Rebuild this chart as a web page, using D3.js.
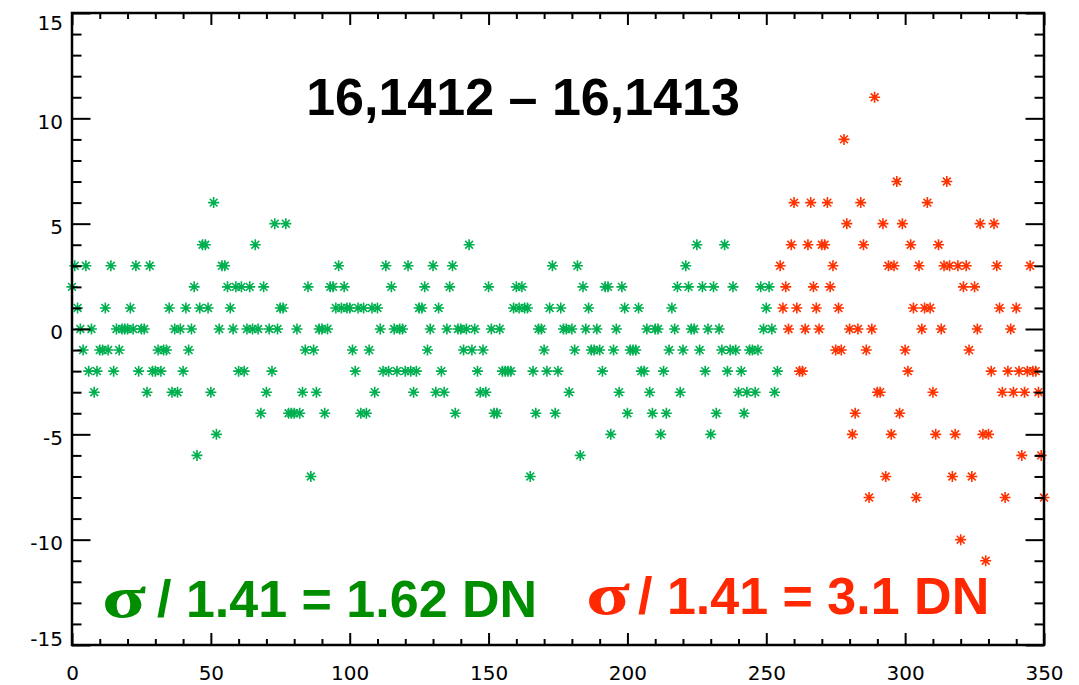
<!DOCTYPE html>
<html>
<head>
<meta charset="utf-8">
<script src="https://cdn.jsdelivr.net/npm/d3@7"></script>
<style>
	body { margin: 0; background: #fff; }
</style>
</head>
<body>
<div class="chart"></div>
<script>
// Paramètres du graphique
const width = 1079;
const height = 685;
const margin = { top: 13, right: 35, bottom: 40, left: 72 };

// Différences (une valeur par pixel, x = indice)
const greenY = [
	2, 3, 1, 0, -1, 3, -2, 0, -3, -2,
	-1, -1, 1, -1, 3, -2, 0, -1, 0, 0,
	0, 1, 0, 3, -2, 0, 0, -3, 3, -2,
	-2, -1, -2, -1, -1, 1, -3, 0, -3, 0,
	-2, 1, -1, 0, 2, -6, 1, 4, 4, 1,
	-3, 6, -5, 0, 3, 3, 2, 1, 0, 2,
	-2, 2, -2, 0, 2, 0, 4, 0, -4, 2,
	-3, 0, -2, 5, 0, 1, 1, 5, -4, -4,
	-4, 0, -4, -3, -1, 2, -7, -1, -3, 0,
	0, -4, 0, 2, 2, 1, 3, 1, 2,
	1, 1, -1, -2, 1, -4, 1, -4, -1, 1,
	-3, 1, 0, -2, 3, -2, 2, 0, -2, 0,
	0, -2, 3, -2, -3, -2, 1, 1, 2, -1,
	0, 3, -3, 1, -2, -3, 0, 2, 3, -4,
	0, 0, -1, 0, 4, -1, 0, -2, -3,
	-1, -3, 2, 0, -4, -4, 0, -2, -2, -2,
	-2, 1, 2, 1, 2, 1, 1, -7, -2, -4,
	0, 0, -1, -2, 1, 3, -4, -2, 1, 0,
	0, -3, 0, -1, 3, -6, 2, 0, 1, -1,
	-1, 0, -1, -2, 2, 2, -5, -1, 0, -3,
	2, 1, -4, -1, -1, -1, 1, -2, -2, 0,
	-3, -4, 0, 0, -5, -2, -4, -1, 1, 0,
	2, -3, -1, 3, 2, 0, 0, 4, -1, 2,
	-2, 0, -5, 2, -4, 0, -1, 4, -2, -1,
	2, -1, -3, -2, -4, -3, -1, -1, -3, -1,
	2, 0, 1, 2, 0, -3, -2
];
const redY = [
	3, 1, 2, 0, 4, 6, 1, -2, -2, 0,
	4, 6, 2, 1, 0, 4, 4, 6, 2, 3,
	-1, 1, -1, 9, 5, 0, -5, -4, 0, 6,
	4, -1, -8, 0, 11, -3, -3, 5, -7, 3,
	-5, 3, 7, -4, 5, -1, -2, 4, 1, -8,
	3, 0, 1, 6, 1, -3, -5, 4, 0, 3,
	7, 3, -7, -5, 3, -10, 2, 3, -1, -7,
	2, 0, 5, -5, -11, -5, -2, 5, 3, 1,
	-3, -8, -2, 0, -3, 1, -2, -6, -3, -2,
	3, -2, -2, -3, -6, -8
];
const redStart = greenY.length;

// Axes et textes
const xDomain = [0, 350];
const yDomain = [-15, 15];
const xMajorTicks = [0, 50, 100, 150, 200, 250, 300, 350];
const yMajorTicks = [-15, -10, -5, 0, 5, 10, 15];
const title = '16,1412 \u2013 16,1413';
const greenNote = '/ 1.41 = 1.62 DN';
const redNote = '/ 1.41 = 3.1 DN';

// Symbole astérisque (psym=2)
const star = 'M-5.5,0H5.5M0,-5.5V5.5M-3.9,-3.9L3.9,3.9M-3.9,3.9L3.9,-3.9';

const svg = d3.select('.chart')
	.append('svg')
	.attr('width', width)
	.attr('height', height)
	.style('background', '#fff');

const x = d3.scaleLinear()
	.domain(xDomain)
	.range([margin.left, width - margin.right]);
const y = d3.scaleLinear()
	.domain(yDomain)
	.range([height - margin.bottom, margin.top]);

const xMinor = d3.range(xDomain[0], xDomain[1] + 1, 10).filter(d => d % 50 !== 0);
const yMinor = d3.range(yDomain[0], yDomain[1] + 1, 1).filter(d => d % 5 !== 0);

// Points
function drawPoints(values, start, color) {
	const g = svg.append('g');
	g.selectAll('path')
		.data(values)
		.join('path')
			.attr('d', star)
			.attr('transform', (d, i) => `translate(${x(start + i)},${y(d)})`)
			.attr('fill', 'none')
			.attr('stroke', color)
			.attr('stroke-width', 1.6);
	g.selectAll('circle')
		.data(values)
		.join('circle')
			.attr('cx', (d, i) => x(start + i))
			.attr('cy', d => y(d))
			.attr('r', 2)
			.attr('fill', color);
}
drawPoints(greenY, 0, '#00b050');
drawPoints(redY, redStart, '#ff3300');

// Axes (ticks vers l'intérieur)
const fmt = d => String(d);
function styleAxis(g) {
	g.select('.domain').remove();
	g.selectAll('line').attr('stroke', '#000').attr('stroke-width', 2);
	g.attr('font-family', 'DejaVu Sans').attr('font-size', 20);
	g.selectAll('text').attr('fill', '#000');
}
const bottom = height - margin.bottom;
const right = width - margin.right;

svg.append('g').attr('transform', `translate(0,${bottom})`)
	.call(d3.axisBottom(x).tickValues(xMajorTicks).tickSize(-12).tickPadding(21).tickFormat(fmt))
	.call(styleAxis);
svg.append('g').attr('transform', `translate(0,${bottom})`)
	.call(d3.axisBottom(x).tickValues(xMinor).tickSize(-6).tickFormat(''))
	.call(styleAxis);
svg.append('g').attr('transform', `translate(0,${margin.top})`)
	.call(d3.axisTop(x).tickValues(xMajorTicks).tickSize(-12).tickFormat(''))
	.call(styleAxis);
svg.append('g').attr('transform', `translate(0,${margin.top})`)
	.call(d3.axisTop(x).tickValues(xMinor).tickSize(-6).tickFormat(''))
	.call(styleAxis);

svg.append('g').attr('transform', `translate(${margin.left},0)`)
	.call(d3.axisLeft(y).tickValues(yMajorTicks).tickSize(-18.5).tickPadding(9).tickFormat(fmt))
	.call(styleAxis)
	.call(g => g.selectAll('text')
		.attr('dy', '0.36em')
		.attr('y', d => Math.min(Math.max(y(d) + 2.5, margin.top + 9.5), bottom - 7) - y(d)));
svg.append('g').attr('transform', `translate(${margin.left},0)`)
	.call(d3.axisLeft(y).tickValues(yMinor).tickSize(-9.5).tickFormat(''))
	.call(styleAxis);
svg.append('g').attr('transform', `translate(${right},0)`)
	.call(d3.axisRight(y).tickValues(yMajorTicks).tickSize(-18.5).tickFormat(''))
	.call(styleAxis);
svg.append('g').attr('transform', `translate(${right},0)`)
	.call(d3.axisRight(y).tickValues(yMinor).tickSize(-9.5).tickFormat(''))
	.call(styleAxis);

// Cadre
svg.append('rect')
	.attr('x', margin.left)
	.attr('y', margin.top)
	.attr('width', right - margin.left)
	.attr('height', bottom - margin.top)
	.attr('fill', 'none')
	.attr('stroke', '#000')
	.attr('stroke-width', 2.5);

// Titre
svg.append('text')
	.attr('x', 523)
	.attr('y', 115)
	.attr('text-anchor', 'middle')
	.attr('font-family', 'Liberation Sans, Arial, sans-serif')
	.attr('font-weight', 'bold')
	.attr('font-size', 52)
	.attr('fill', '#000')
	.text(title);

// Annotations sigma
function note(x0, xText, baseline, text, color) {
	svg.append('text')
		.attr('transform', `translate(${x0},${baseline}) scale(1.35,1)`)
		.attr('font-family', 'Liberation Serif, Times New Roman, serif')
		.attr('font-weight', 'bold')
		.attr('font-size', 60)
		.attr('fill', color)
		.text('\u03c3');
	svg.append('text')
		.attr('x', xText)
		.attr('y', baseline)
		.attr('font-family', 'Liberation Sans, Arial, sans-serif')
		.attr('font-weight', 'bold')
		.attr('font-size', 52)
		.attr('fill', color)
		.text(text);
}
note(102, 157, 616.5, greenNote, '#008e00');
note(586, 638, 613.5, redNote, '#ff2800');
</script>
</body>
</html>
